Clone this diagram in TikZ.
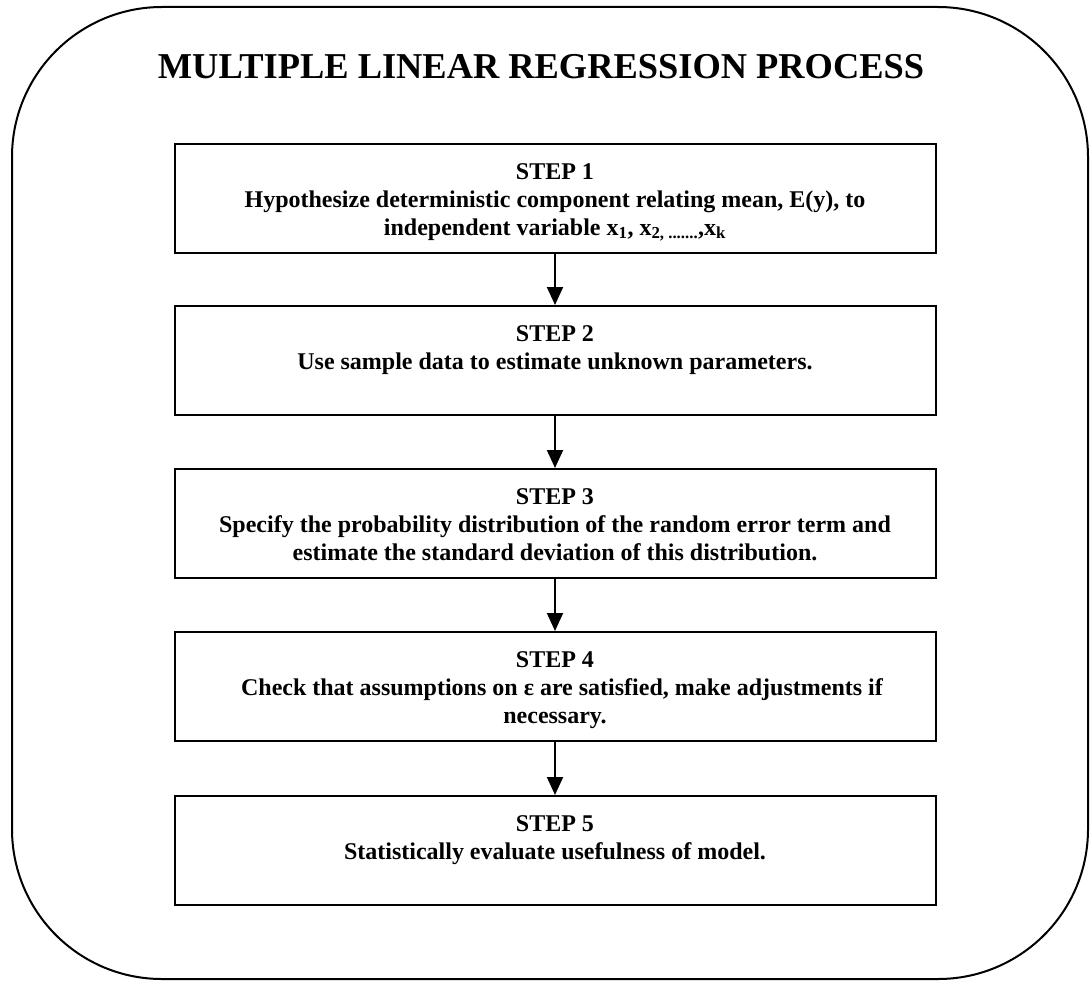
\documentclass[tikz,border=0pt]{standalone}
\usepackage{fontspec}
\setmainfont{Liberation Serif}
\usetikzlibrary{arrows.meta}
\tikzset{
  stepbox/.style={draw, line width=2pt, anchor=north, inner sep=0pt,
    minimum width=761pt, minimum height=109pt,
    font=\fontsize{24}{28}\selectfont\bfseries},
}
\newcommand{\steptext}[1]{\parbox[c][109pt][t]{740pt}{\centering\rule{0pt}{35pt}#1}}
\begin{document}
\begin{tikzpicture}[x=1pt,y=-1pt]
      \useasboundingbox (0,0) rectangle (1091,982);
      \draw[line width=2pt, rounded corners=150pt] (12,7) rectangle (1088,979);
      \node[anchor=base, font=\fontsize{36.4}{44}\selectfont\bfseries] (title)
        at (541,78) {MULTIPLE LINEAR REGRESSION PROCESS};
      \draw
        (555,143) node[stepbox] (1){\steptext{STEP 1\\
          Hypothesize deterministic component relating mean, E(y), to\\
          independent variable x\textsubscript{1}, x\textsubscript{2, .......},x\textsubscript{k}}}
        (555,305) node[stepbox] (2){\steptext{STEP 2\\
          Use sample data to estimate unknown parameters.}}
        (555,468) node[stepbox] (3){\steptext{STEP 3\\
          Specify the probability distribution of the random error term and\\
          estimate the standard deviation of this distribution.}}
        (555,631) node[stepbox] (4){\steptext{STEP 4\\
          \hspace*{14pt}Check that assumptions on ε are satisfied, make adjustments if\\
          necessary.}}
        (555,795) node[stepbox] (5){\steptext{STEP 5\\
          Statistically evaluate usefulness of model.}};
      \begin{scope}[line width=2pt, -{Triangle[length=18pt,width=16pt]}]
        \draw (1) to (2);
        \draw (2) to (3);
        \draw (3) to (4);
        \draw (4) to (5);
      \end{scope}
    \end{tikzpicture}
\end{document}
